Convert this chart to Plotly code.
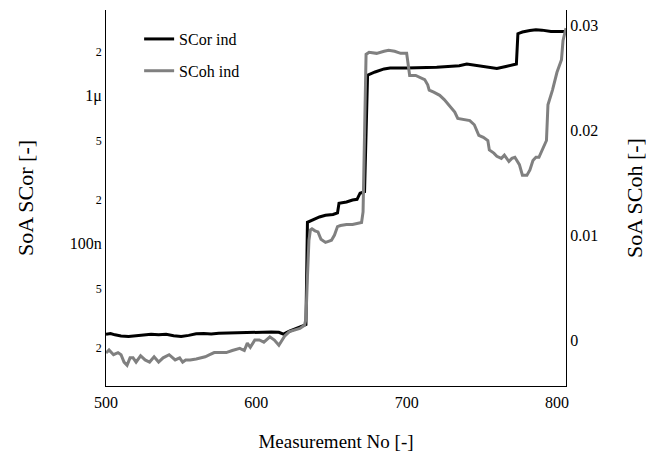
import plotly.graph_objects as go

# ---- data ----
scor_x = [500, 503, 506, 510, 515, 520, 525, 530, 535, 540, 545, 550, 555, 560, 565, 570, 575, 580,
          590, 600, 610, 615, 618, 622, 626, 630, 633, 634, 637, 642, 646, 651, 654, 655, 660, 664,
          667, 669, 672, 674, 679, 685, 689, 700, 720, 735, 740, 750, 760, 766, 772, 773, 774, 777,
          782, 786, 790, 796, 800, 806]
scor_y = [2.45e-8, 2.48e-8, 2.43e-8, 2.39e-8, 2.37e-8, 2.39e-8, 2.42e-8, 2.45e-8, 2.43e-8, 2.45e-8,
          2.40e-8, 2.37e-8, 2.41e-8, 2.47e-8, 2.48e-8, 2.46e-8, 2.49e-8, 2.50e-8, 2.52e-8, 2.53e-8,
          2.54e-8, 2.53e-8, 2.46e-8, 2.57e-8, 2.67e-8, 2.75e-8, 2.85e-8, 1.40e-7, 1.45e-7, 1.52e-7,
          1.56e-7, 1.58e-7, 1.62e-7, 1.88e-7, 1.92e-7, 1.98e-7, 2.00e-7, 2.20e-7, 2.25e-7, 1.38e-6,
          1.45e-6, 1.52e-6, 1.54e-6, 1.54e-6, 1.56e-6, 1.60e-6, 1.64e-6, 1.58e-6, 1.53e-6, 1.58e-6,
          1.64e-6, 1.64e-6, 2.63e-6, 2.70e-6, 2.76e-6, 2.80e-6, 2.78e-6, 2.72e-6, 2.72e-6, 2.72e-6]

scoh_x = [500, 502, 505, 508, 510, 512, 514, 516, 518, 520, 523, 526, 529, 532, 535, 538, 542, 546,
          549, 551, 553, 556, 560, 563, 566, 569, 572, 576, 580, 584, 587, 589, 592, 594, 596, 599,
          602, 605, 609, 612, 615, 619, 622, 626, 629, 632, 633, 634, 635, 636, 637, 639, 641, 643,
          646, 648, 650, 652, 653, 654, 656, 660, 664, 668, 670, 671, 672, 673, 675, 680, 685, 688,
          692, 696, 700, 701, 702, 706, 709, 712, 714, 715, 718, 722, 725, 729, 732, 734, 738, 742,
          745, 748, 751, 754, 755, 758, 760, 763, 765, 768, 770, 772, 775, 777, 780, 782, 784, 786,
          788, 791, 793, 794, 797, 800, 803, 804, 806]
scoh_y = [-0.00124, -0.00095, -0.0014, -0.0012, -0.0014, -0.0021, -0.0024, -0.0017, -0.0017, -0.0021,
          -0.0015, -0.0019, -0.0021, -0.0016, -0.0021, -0.0017, -0.0014, -0.0019, -0.0017, -0.0021,
          -0.0019, -0.0019, -0.0018, -0.0017, -0.0016, -0.0014, -0.0012, -0.0012, -0.0012, -0.0010,
          -0.0009, -0.0008, -0.0010, -0.0003, -0.0007, 0.0000, 0.0000, -0.0002, 0.0003, 0.0000,
          -0.0005, 0.0004, 0.0008, 0.0010, 0.0011, 0.0014, 0.0020, 0.0060, 0.0095, 0.0105,
          0.0106, 0.0104, 0.0103, 0.0096, 0.0093, 0.0094, 0.0095, 0.0100, 0.0104, 0.0108,
          0.0109, 0.0110, 0.0110, 0.0111, 0.0112, 0.0122, 0.0200, 0.0272, 0.0274, 0.0273,
          0.0275, 0.0276, 0.0275, 0.0273, 0.0273, 0.0262, 0.0252, 0.0252, 0.0250, 0.0248,
          0.0243, 0.0238, 0.0236, 0.0233, 0.0229, 0.0222, 0.0217, 0.0211, 0.0210, 0.0209,
          0.0205, 0.0195, 0.0193, 0.0190, 0.0181, 0.0178, 0.0175, 0.0173, 0.0176, 0.0170,
          0.0173, 0.0174, 0.0167, 0.0157, 0.0157, 0.0162, 0.0171, 0.0174, 0.0174, 0.0183,
          0.0190, 0.0224, 0.0238, 0.0255, 0.0267, 0.0285, 0.0297]

FONT = "Liberation Serif, Times New Roman, serif"

fig = go.Figure()
fig.add_trace(go.Scatter(x=scor_x, y=scor_y, mode="lines", name="SCor ind",
                         line=dict(color="black", width=3), legendgroup="a", yaxis="y"))
fig.add_trace(go.Scatter(x=scoh_x, y=scoh_y, mode="lines", name="SCoh ind",
                         line=dict(color="#808080", width=3), legendgroup="b", yaxis="y2"))

fig.update_layout(
    width=654, height=455,
    margin=dict(l=98, r=96, t=2, b=77),
    paper_bgcolor="white", plot_bgcolor="white",
    font=dict(family=FONT, size=16, color="black"),
    showlegend=True,
    legend=dict(x=0.072, y=0.968, xanchor="left", yanchor="top",
                bgcolor="rgba(0,0,0,0)", font=dict(size=16),
                traceorder="grouped", tracegroupgap=8),
    xaxis=dict(range=[500, 806], dtick=100, showgrid=False, zeroline=False,
               showline=True, linecolor="black", linewidth=1, ticks="",
               ticklabelstandoff=2,
               title=dict(text="Measurement No [-]", font=dict(size=19), standoff=24)),
    yaxis=dict(type="log", range=[-7.96, -5.42], dtick="D2", exponentformat="SI",
               showgrid=False, zeroline=False, showline=True, linecolor="black",
               linewidth=1, ticks="",
               title=dict(text="SoA SCor [-]", font=dict(size=22), standoff=30)),
    yaxis2=dict(overlaying="y", side="right", range=[-0.00438, 0.03143], dtick=0.01,
                showgrid=False, zeroline=False, showline=True, linecolor="black",
                linewidth=1, ticks="",
                title=dict(text="SoA SCoh [-]", font=dict(size=22), standoff=29)),
)

fig.write_html("out.html")
